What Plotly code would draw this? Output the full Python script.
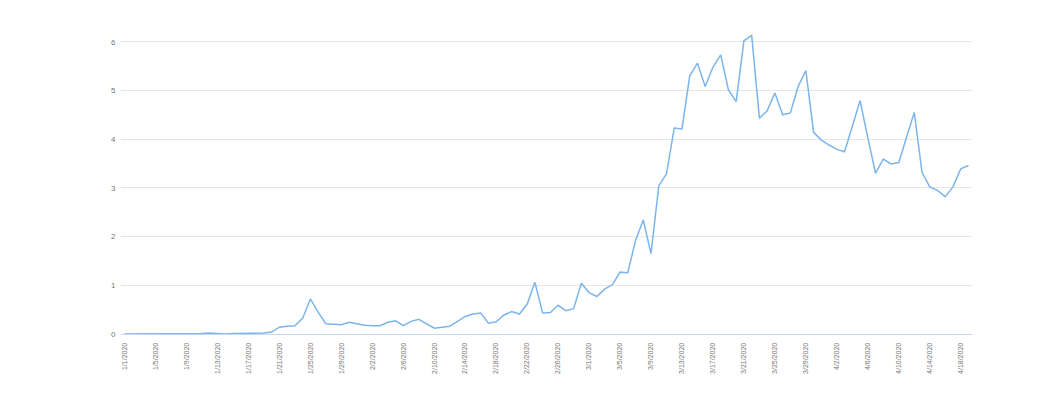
import plotly.graph_objects as go
import pandas as pd

dates = pd.date_range("2020-01-01", "2020-04-19", freq="D")

values = [
    0, 0, 0, 0, 0, 0, 0, 0, 0, 0,
    0.01, 0.02, 0.01, 0.0, 0.01, 0.01, 0.01, 0.01, 0.02, 0.04,
    0.14, 0.16, 0.17, 0.32, 0.72, 0.45, 0.21, 0.20, 0.19, 0.24, 0.21,
    0.18, 0.17, 0.17, 0.24, 0.27, 0.17, 0.26, 0.30, 0.21, 0.12,
    0.14, 0.16, 0.26, 0.36, 0.41, 0.43, 0.22, 0.25, 0.39, 0.46,
    0.41, 0.61, 1.06, 0.43, 0.44, 0.59, 0.48, 0.52, 1.04, 0.85,
    0.77, 0.92, 1.01, 1.27, 1.26, 1.92, 2.34, 1.65, 3.04, 3.29,
    4.23, 4.21, 5.30, 5.56, 5.08, 5.48, 5.73, 5.01, 4.77, 6.02,
    6.13, 4.43, 4.58, 4.95, 4.50, 4.54, 5.08, 5.41, 4.14, 3.98,
    3.88, 3.79, 3.74, 4.25, 4.79, 4.03, 3.30, 3.59, 3.49, 3.52,
    4.03, 4.55, 3.32, 3.02, 2.95, 2.82, 3.02, 3.39, 3.46,
]

y_ticks = [0, 1, 2, 3, 4, 5, 6]

fig = go.Figure()
fig.add_trace(go.Scatter(
    x=dates, y=values, mode="lines",
    line=dict(color="#7cb5ec", width=1.5),
    hoverinfo="x+y",
    cliponaxis=False,
))

pad = pd.Timedelta(hours=11)
fig.update_layout(
    width=1048, height=394,
    margin=dict(l=113, r=84, t=24, b=68),
    paper_bgcolor="white", plot_bgcolor="white",
    showlegend=False,
    font=dict(family="Liberation Sans, Arial, sans-serif", color="#666666"),
    xaxis=dict(
        type="date",
        range=[dates[0] - pad, dates[-1] + pad],
        tickmode="linear", tick0="2020-01-01", dtick=4 * 86400000,
        tickformat="%-m/%-d/%Y",
        tickangle=-90,
        tickfont=dict(size=7, color="#777777"),
        showgrid=False, zeroline=False,
        showline=True, linecolor="#ccd6eb", linewidth=1,
        ticks="outside", ticklen=5, tickcolor="rgba(0,0,0,0)",
    ),
    yaxis=dict(
        range=[0, 6.2],
        tickvals=y_ticks,
        tickfont=dict(size=8, color="#777777"),
        showgrid=True, gridcolor="#e6e6e6", gridwidth=1,
        zeroline=False, showline=False,
        ticks="outside", ticklen=3, tickcolor="rgba(0,0,0,0)",
    ),
)

fig.write_html("out.html")
